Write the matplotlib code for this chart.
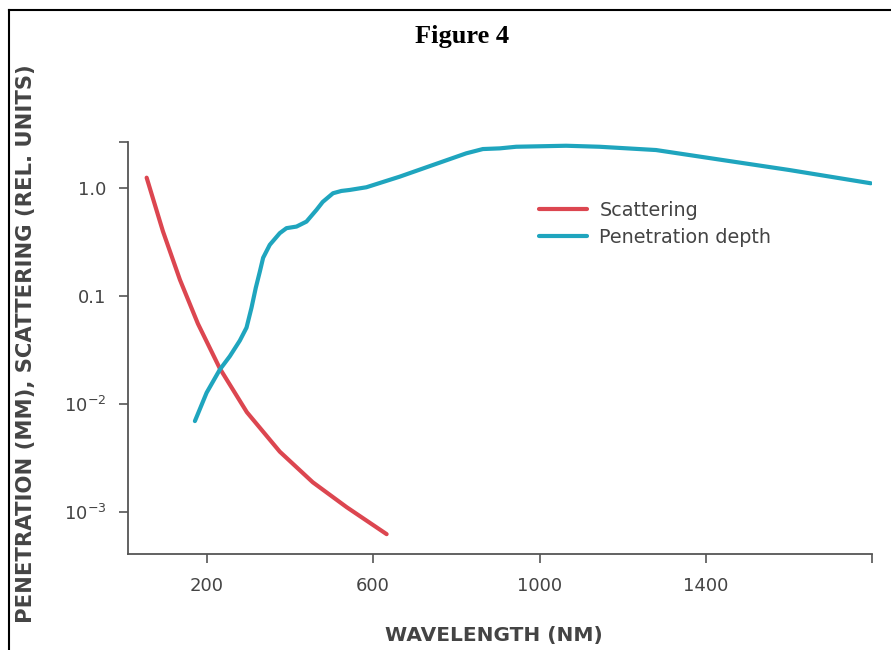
import matplotlib
matplotlib.use("Agg")
import matplotlib.pyplot as plt
from matplotlib.lines import Line2D
from matplotlib.ticker import NullLocator

# values (wavelength in nm)
wl_scatter = [55.6, 94.8, 135.6, 178.8, 231.6, 296.4, 375.6, 454.9, 536.5, 632.5]
scattering = [1.253, 0.399, 0.1423, 0.0558, 0.02146, 0.00847, 0.00365, 0.001901,
              0.001117, 0.000629]

wl_pen = [171.6, 199.7, 231.6, 255.6, 279.6, 295.7, 307.7, 318.0, 327.6, 335.6,
          351.6, 375.6, 391.7, 415.8, 439.8, 463.8, 478.9, 503.6, 523.8, 543.7,
          583.8, 663.8, 743.7, 823.9, 863.8, 904.6, 944.0, 1064.0, 1144.0, 1280.1,
          1440.0, 1600.1, 1796.3]
penetration = [0.0070, 0.0128, 0.0210, 0.0279, 0.0389, 0.0513, 0.0785, 0.1201,
               0.1687, 0.2272, 0.2996, 0.3841, 0.4272, 0.4419, 0.4914, 0.6303,
               0.7475, 0.8992, 0.9443, 0.9645, 1.0215, 1.2797, 1.641, 2.105, 2.306,
               2.34, 2.422, 2.474, 2.422, 2.258, 1.825, 1.476, 1.112]

xticks = [200, 600, 1000, 1400, 1800]
xticklabels = ["200", "600", "1000", "1400", ""]
ytop = 2.66
yticks = [1e-3, 1e-2, 0.1, 1.0, ytop]
yticklabels = [r"$\mathdefault{10^{-3}}$", r"$\mathdefault{10^{-2}}$", "0.1", "1.0", ""]

red = "#dc4650"
blue = "#1fa5be"
grey = "#444444"
axc = "#555555"

fig = plt.figure(figsize=(8.91, 6.5), dpi=100)
ax = fig.add_axes([0.1433, 0.1482, 0.979 - 0.1433, 0.781 - 0.1482])

ax.plot(wl_scatter, scattering, color=red, lw=3, solid_capstyle="round",
        solid_joinstyle="round", label="Scattering")
ax.plot(wl_pen, penetration, color=blue, lw=3, solid_capstyle="round",
        solid_joinstyle="round", label="Penetration depth")

ax.set_yscale("log")
ax.set_xlim(10, 1800)
ax.set_ylim(10 ** -3.382, ytop)
ax.set_xticks(xticks, xticklabels)
ax.set_yticks(yticks, yticklabels)
ax.yaxis.set_minor_locator(NullLocator())

for s in ["top", "right"]:
    ax.spines[s].set_visible(False)
for s in ["left", "bottom"]:
    ax.spines[s].set_color(axc)
    ax.spines[s].set_linewidth(1.3)
ax.tick_params(axis="both", colors=axc, labelcolor=grey, length=6.5, width=1.2, labelsize=13)
ax.tick_params(axis="x", pad=10)
ax.tick_params(axis="y", pad=9)

fig.text(494 / 891, 1 - 636 / 650, "WAVELENGTH (NM)", fontsize=14.5, fontweight="bold",
         color=grey, ha="center", va="center")
fig.text(26 / 891, 1 - 344 / 650, "PENETRATION (MM), SCATTERING (REL. UNITS)",
         rotation=90, fontsize=15.2, fontweight="bold", color=grey,
         ha="center", va="center")

fig.text(462 / 891, 1 - 43 / 650, "Figure 4", fontsize=19, fontweight="bold",
         family="Liberation Serif", ha="center", va="baseline", color="black")

leg = ax.legend(loc="upper left", bbox_to_anchor=(539 / 891, 1 - 201 / 650),
                bbox_transform=fig.transFigure, frameon=False, fontsize=13.8,
                handlelength=2.5, handletextpad=0.65, labelspacing=0.4,
                borderpad=0, borderaxespad=0)
for t in leg.get_texts():
    t.set_color(grey)

# black frame on the top and left of the picture
fig.add_artist(Line2D([9 / 891, 1.01], [1 - 10 / 650] * 2, transform=fig.transFigure,
                      color="black", lw=1.5))
fig.add_artist(Line2D([9 / 891] * 2, [-0.01, 1 - 10 / 650], transform=fig.transFigure,
                      color="black", lw=1.5))

fig.savefig("out.png", dpi=100)
